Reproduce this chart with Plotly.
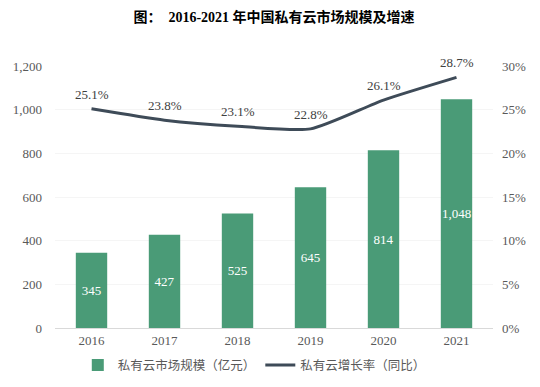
import plotly.graph_objects as go

years = ["2016", "2017", "2018", "2019", "2020", "2021"]
market = [345, 427, 525, 645, 814, 1048]
growth = [25.1, 23.8, 23.1, 22.8, 26.1, 28.7]
market_labels = ["345", "427", "525", "645", "814", "1,048"]
growth_labels = ["25.1%", "23.8%", "23.1%", "22.8%", "26.1%", "28.7%"]

serif = "Liberation Serif, Times New Roman, serif"
tick_color = "#595959"

fig = go.Figure()
fig.add_trace(go.Bar(
    x=years, y=market, name="私有云市场规模（亿元）",
    marker=dict(color="#4a9b77", line=dict(width=0)),
    text=market_labels, textposition="inside", insidetextanchor="middle",
    textangle=0, constraintext="none",
    textfont=dict(color="white", family=serif, size=13),
    cliponaxis=False,
))
fig.add_trace(go.Scatter(
    x=years, y=growth, name="私有云增长率（同比）", yaxis="y2",
    mode="lines", line=dict(color="#3e4b58", width=3, shape="spline", smoothing=0.6),
    cliponaxis=False,
))
for i, (g, lab) in enumerate(zip(growth, growth_labels)):
    fig.add_annotation(
        x=i, y=g, xref="x", yref="y2", text=lab, showarrow=False,
        yanchor="bottom", yshift=5,
        font=dict(color="#404040", family=serif, size=13),
    )

fig.update_layout(
    width=532, height=379,
    margin=dict(l=47, r=47, t=58, b=59, autoexpand=False),
    paper_bgcolor="white", plot_bgcolor="white",
    title=dict(
        text="<b>图：  2016-2021 年中国私有云市场规模及增速</b>",
        x=0.5, xanchor="center", y=0.977, yanchor="middle",
        font=dict(family="Liberation Serif, Noto Sans CJK SC, serif", size=14, color="black"),
    ),
    bargap=0.57,
    showlegend=True,
    legend=dict(
        orientation="h", x=0.455, xanchor="center", yref="container", y=0.057, yanchor="middle",
        font=dict(family="Noto Sans CJK SC, serif", size=12.5, color=tick_color),
        itemwidth=30, traceorder="normal",
    ),
    xaxis=dict(
        type="category", categoryorder="array", categoryarray=years,
        showline=True, linecolor="#d9d9d9", linewidth=1, ticks="",
        tickfont=dict(family=serif, size=13, color=tick_color),
        showgrid=False, automargin=False,
    ),
    yaxis=dict(
        range=[0, 1200], dtick=200, tickformat=",",
        showgrid=True, gridcolor="#f5f5f5", zeroline=False,
        tickfont=dict(family=serif, size=13, color=tick_color),
        ticklabelstandoff=12, automargin=False,
    ),
    yaxis2=dict(
        range=[0, 30], dtick=5, ticksuffix="%", overlaying="y", side="right",
        showgrid=False, zeroline=False,
        tickfont=dict(family=serif, size=13, color=tick_color),
        ticklabelstandoff=8, automargin=False,
    ),
)

fig.write_html("out.html")
